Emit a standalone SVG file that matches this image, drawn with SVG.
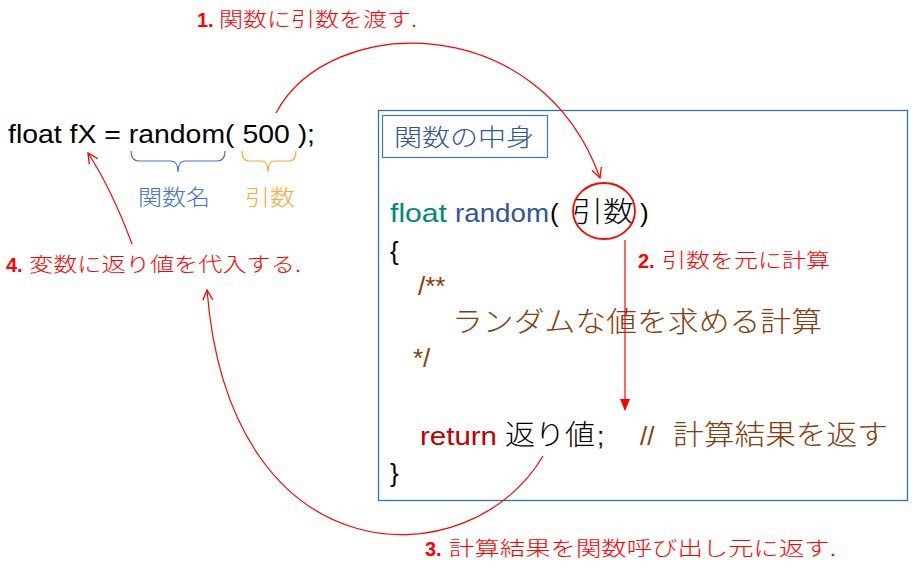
<svg xmlns="http://www.w3.org/2000/svg" width="919" height="573" viewBox="0 0 919 573">
<style>
text{font-family:"Liberation Sans","Noto Sans CJK JP",sans-serif}
.jp{font-family:"Noto Sans CJK JP","Liberation Sans",sans-serif;font-weight:300}
.red{fill:#FF0000}
.lbl{font-size:20px}
.code{font-size:26px}
.brown{fill:#843C0C}
.conn{fill:none;stroke:#FF0000;stroke-width:1.2}
</style>
<defs>
<marker id="open" viewBox="0 0 12 12" refX="11" refY="6" markerWidth="12" markerHeight="12" markerUnits="userSpaceOnUse" orient="auto">
<path d="M1,1 L11,6 L1,11" fill="none" stroke="#FF0000" stroke-width="1.3"/>
</marker>
<marker id="solid" viewBox="0 0 12 12" refX="11" refY="6" markerWidth="12" markerHeight="12" markerUnits="userSpaceOnUse" orient="auto">
<path d="M0,1 L12,6 L0,11 Z" fill="#FF0000"/>
</marker>
</defs>
<rect width="919" height="573" fill="#FFFFFF"/>

<g id="call">
<text x="8" y="143" font-size="25" fill="#000" textLength="307" lengthAdjust="spacingAndGlyphs">float fX = random( 500 );</text>
</g>

<g id="funcname-brace">
<path d="M131,151 Q131,161 139,161 L171,161 Q178,161 178,172 Q178,161 185,161 L217,161 Q225,161 225,151" fill="none" stroke="#4472C4" stroke-width="1.2"/>
<text class="jp" x="138" y="205" font-size="22" fill="#4472C4" textLength="72" lengthAdjust="spacingAndGlyphs">関数名</text>
</g>

<g id="arg-brace">
<path d="M242,151 Q242,161 249,161 L262,161 Q268,161 268,172 Q268,161 274,161 L289,161 Q296,161 296,151" fill="none" stroke="#FFA833" stroke-width="1.2"/>
<text class="jp" x="245" y="205" font-size="22" fill="#FFA833" textLength="50" lengthAdjust="spacingAndGlyphs">引数</text>
</g>

<g id="label1">
<text x="197" y="27" class="red lbl"><tspan font-weight="bold">1.</tspan><tspan class="jp" x="219" textLength="198" lengthAdjust="spacingAndGlyphs">関数に引数を渡す.</tspan></text>
</g>

<g id="label4">
<text x="6" y="272" class="red lbl"><tspan font-weight="bold">4.</tspan><tspan class="jp" x="29" textLength="272" lengthAdjust="spacingAndGlyphs">変数に返り値を代入する.</tspan></text>
</g>

<g id="label2">
<text x="638" y="268" class="red lbl"><tspan font-weight="bold">2.</tspan><tspan class="jp" x="662" textLength="168" lengthAdjust="spacingAndGlyphs">引数を元に計算</tspan></text>
</g>

<g id="label3">
<text x="425" y="556" class="red lbl"><tspan font-weight="bold">3.</tspan><tspan class="jp" x="449" textLength="387" lengthAdjust="spacingAndGlyphs">計算結果を関数呼び出し元に返す.</tspan></text>
</g>

<g id="function-body">
<rect x="378.5" y="110.5" width="529" height="390" fill="none" stroke="#2E75B6" stroke-width="1.3"/>
<rect x="382.5" y="115.5" width="165" height="42" fill="none" stroke="#4472C4" stroke-width="1.2"/>
<text class="jp" x="394" y="146" font-size="24" fill="#2F5597" textLength="140" lengthAdjust="spacingAndGlyphs">関数の中身</text>

<text x="390" y="222" class="code" fill="#00897B" textLength="57" lengthAdjust="spacingAndGlyphs">float</text>
<text x="455" y="222" class="code" fill="#2F5597" textLength="94" lengthAdjust="spacingAndGlyphs">random</text>
<text x="550" y="222" class="code" fill="#000">(</text>
<text class="jp" x="572" y="222" font-size="28" fill="#000" textLength="62" lengthAdjust="spacingAndGlyphs">引数</text>
<text x="640" y="222" class="code" fill="#000">)</text>

<text x="390" y="260" class="code" fill="#000">{</text>
<text x="418" y="295" class="code brown">/**</text>
<text class="jp brown" x="452" y="332" font-size="28" textLength="370" lengthAdjust="spacingAndGlyphs">ランダムな値を求める計算</text>
<text x="413" y="367" class="code brown">*/</text>

<text x="420" y="445" class="code" fill="#C00000" textLength="77" lengthAdjust="spacingAndGlyphs">return</text>
<text class="jp" x="505" y="445" font-size="28" fill="#000" textLength="90" lengthAdjust="spacingAndGlyphs">返り値</text>
<text x="597" y="445" class="code" fill="#000">;</text>
<text x="640" y="445" class="code brown">//</text>
<text class="jp brown" x="673" y="445" font-size="28" textLength="215" lengthAdjust="spacingAndGlyphs">計算結果を返す</text>
<text x="390" y="482" class="code" fill="#000">}</text>
</g>

<g id="connectors">
<ellipse cx="604" cy="211" rx="31" ry="28" fill="none" stroke="#FF0000" stroke-width="1.8"/>
<path class="conn" d="M276,113 C330,12 540,10 600,178" marker-end="url(#open)"/>
<path class="conn" d="M625,240 L625,410" marker-end="url(#solid)"/>
<path class="conn" d="M543,456 C470,580 230,580 207,290" marker-end="url(#open)"/>
<path class="conn" d="M132,244 Q112,190 88,153" marker-end="url(#open)"/>
</g>
</svg>
